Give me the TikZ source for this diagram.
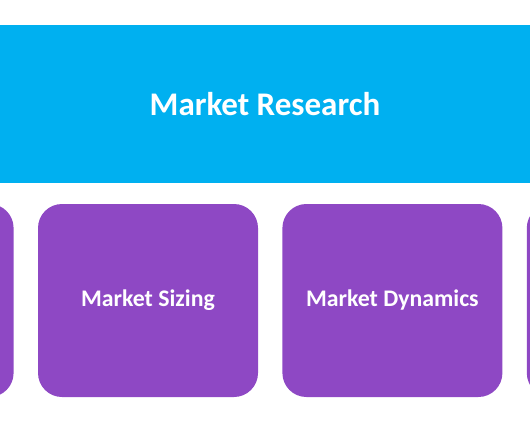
\documentclass[tikz,border=0pt]{standalone}
\usepackage{fontspec}
\setmainfont{Carlito}
\usetikzlibrary{positioning}
\definecolor{mrblue}{HTML}{00B0F0}
\definecolor{mrpurple}{HTML}{8E48C4}
\tikzset{
  banner/.style={fill=mrblue, draw=none, minimum width=530pt, minimum height=158pt,
    inner sep=0pt, text=white, font=\fontsize{33}{38}\selectfont\bfseries},
  areabox/.style={fill=mrpurple, draw=none, rounded corners=24pt, minimum width=220pt,
    minimum height=193pt, inner sep=0pt, text=white, font=\fontsize{23.8}{28}\selectfont\bfseries}
}

\begin{document}
\begin{tikzpicture}[x=1pt, y=1pt, node distance=24pt]
    \useasboundingbox (0,0) rectangle (530,-442);
    \clip (0,0) rectangle (530,-442);
    \node[banner] (research) at (265,-104) {Market Research};

    \node[areabox] (sizing) at (148,-300.5) {Market Sizing};
    \node[areabox, right=of sizing] (dynamics) {Market Dynamics};
    \node[areabox, left=of sizing] (leftbox) {};
    \node[areabox, right=of dynamics] (rightbox) {};
\end{tikzpicture}
\end{document}
